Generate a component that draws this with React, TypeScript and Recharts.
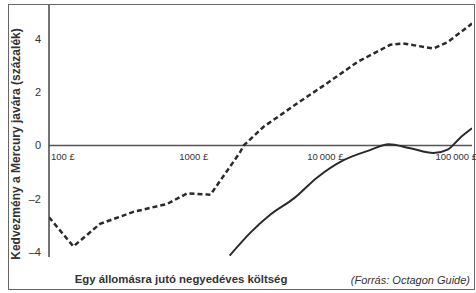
import React from "react";
import { LineChart, Line, XAxis, YAxis, ReferenceLine, ReferenceDot } from "recharts";

// quarterly cost per station (£), log scale
const dashedCost = [100, 155, 200, 250, 455, 835, 1200, 1820, 3100, 3300, 4700, 8700, 14800, 25500, 46000, 58000, 100000, 129000, 200000];
const dashedPct = [-2.7, -3.8, -3.35, -2.95, -2.5, -2.2, -1.8, -1.85, -0.25, 0, 0.7, 1.6, 2.35, 3.15, 3.8, 3.85, 3.66, 3.9, 4.6];

const solidCost = [2570, 3700, 5350, 8100, 12400, 19900, 32000, 44700, 66000, 100000, 129000, 162000, 200000];
const solidPct = [-4.15, -3.3, -2.6, -2.0, -1.2, -0.55, -0.17, 0.05, -0.1, -0.28, -0.15, 0.3, 0.65];

const xTicks = [100, 1000, 10000, 100000];
const xTickLabels = ["100 £", "1000 £", "10\u2009000 £", "100\u2009000 £"];
const yTicks = [-4, -2, 0, 2, 4];

const dashedData = dashedCost.map((x, i) => ({ x, y: dashedPct[i] }));
const solidData = solidCost.map((x, i) => ({ x, y: solidPct[i] }));

const font = "'Liberation Sans', Arial, sans-serif";

const TickLabel = ({ viewBox, value }: any) => (
  <text x={viewBox.x + 2} y={viewBox.y + 14} fontSize={9.5} fill="#333" fontFamily={font}>
    {value}
  </text>
);

export default function App() {
  return (
    <div style={{ position: "relative", width: 476, height: 293, background: "#fff", fontFamily: font }}>
      <style>{`body{margin:0}`}</style>
      <div
        style={{
          position: "absolute",
          left: 8,
          top: 4,
          width: 465,
          height: 284,
          border: "1.5px solid #666",
        }}
      />
      <LineChart width={476} height={293} margin={{ top: 5, right: 4, left: 0, bottom: 36 }}>
        <XAxis
          type="number"
          dataKey="x"
          scale="log"
          domain={[100, 200000]}
          allowDataOverflow
          hide
        />
        <YAxis
          type="number"
          domain={[-4.2, 5.3]}
          ticks={yTicks}
          allowDataOverflow
          width={49}
          tickLine={false}
          tickSize={6}
          tickMargin={2}
          axisLine={{ stroke: "#444", strokeWidth: 1.5 }}
          tick={{ fontSize: 11, fill: "#333", fontFamily: font }}
          tickFormatter={(v: number) => (v < 0 ? `–${Math.abs(v)}` : `${v}`)}
        />
        <ReferenceLine y={0} stroke="#555" strokeWidth={1.5} />
        {xTicks.map((t, i) => (
          <ReferenceDot
            key={t}
            x={t}
            y={0}
            r={0}
            fill="none"
            stroke="none"
            label={<TickLabel value={xTickLabels[i]} />}
          />
        ))}
        <Line
          data={dashedData}
          dataKey="y"
          type="linear"
          stroke="#2a2a2a"
          strokeWidth={2.5}
          strokeDasharray="5 3"
          dot={false}
          isAnimationActive={false}
        />
        <Line
          data={solidData}
          dataKey="y"
          type="monotone"
          stroke="#2a2a2a"
          strokeWidth={2}
          dot={false}
          isAnimationActive={false}
        />
      </LineChart>
      <div
        style={{
          position: "absolute",
          left: 16,
          top: 144,
          transform: "translate(-50%, -50%) rotate(-90deg)",
          whiteSpace: "nowrap",
          fontSize: 12,
          fontWeight: "bold",
          color: "#333",
        }}
      >
        Kedvezmény a Mercury javára (százalék)
      </div>
      <div
        style={{
          position: "absolute",
          left: 181,
          top: 273,
          transform: "translateX(-50%)",
          whiteSpace: "nowrap",
          fontSize: 11.4,
          fontWeight: "bold",
          color: "#333",
        }}
      >
        Egy állomásra jutó negyedéves költség
      </div>
      <div
        style={{
          position: "absolute",
          right: 6,
          top: 274,
          whiteSpace: "nowrap",
          fontSize: 11,
          fontStyle: "italic",
          color: "#333",
        }}
      >
        (Forrás: Octagon Guide)
      </div>
    </div>
  );
}
